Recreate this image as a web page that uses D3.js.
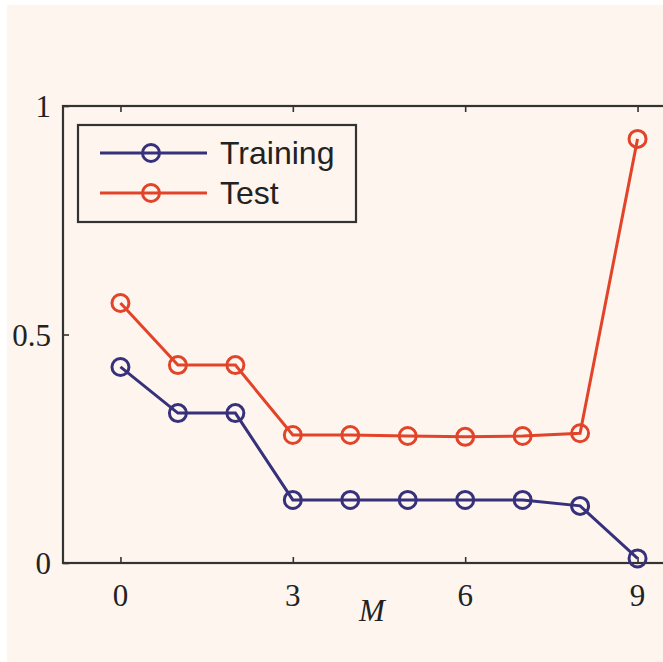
<!DOCTYPE html>
<html>
<head>
<meta charset="utf-8">
<script src="https://cdn.jsdelivr.net/npm/d3@7"></script>
<style>
  html, body { margin: 0; padding: 0; background: #ffffff; }
  svg { display: block; }
</style>
</head>
<body>
<svg id="chart" width="663" height="662"></svg>
<script>
// Polynomial order M and RMS error on training / test sets
const orders = [0, 1, 2, 3, 4, 5, 6, 7, 8, 9];
const trainingError = [0.429, 0.328, 0.328, 0.138, 0.138, 0.138, 0.138, 0.138, 0.125, 0.01];
const testError = [0.569, 0.433, 0.433, 0.280, 0.280, 0.278, 0.276, 0.278, 0.284, 0.928];
const xTicks = [0, 3, 6, 9];
const yTicks = [0, 0.5, 1];
const yTickLabels = ["0", "0.5", "1"];
const seriesNames = ["Training", "Test"];
const seriesColors = ["#37317c", "#e2442a"];

const svg = d3.select("#chart");

// paper background
svg.append("rect")
  .attr("x", 7).attr("y", 5).attr("width", 663).attr("height", 662)
  .attr("fill", "#fdf5ee");

const x = d3.scaleLinear().domain([-1, 10]).range([63, 695]);
const y = d3.scaleLinear().domain([0, 1]).range([563, 106]);

const axisColor = "#333333";
const markW = 3;

// frame around the plotting area
svg.append("rect")
  .attr("x", x(-1)).attr("y", y(1))
  .attr("width", x(10) - x(-1)).attr("height", y(0) - y(1))
  .attr("fill", "none").attr("stroke", axisColor).attr("stroke-width", 2.2);

// inward ticks on bottom and top edges
const xAxisBottom = d3.axisBottom(x).tickValues(xTicks).tickSizeInner(-6).tickSizeOuter(0).tickFormat("");
const xAxisTop = d3.axisTop(x).tickValues(xTicks).tickSizeInner(-6).tickSizeOuter(0).tickFormat("");
const yAxisLeft = d3.axisLeft(y).tickValues(yTicks).tickSizeInner(-6).tickSizeOuter(0).tickFormat("");

[svg.append("g").attr("transform", `translate(0,${y(0)})`).call(xAxisBottom),
 svg.append("g").attr("transform", `translate(0,${y(1)})`).call(xAxisTop),
 svg.append("g").attr("transform", `translate(${x(-1)},0)`).call(yAxisLeft)]
  .forEach(g => {
    g.select(".domain").remove();
    g.selectAll("line").attr("stroke", axisColor).attr("stroke-width", 1.6);
  });

// tick labels (serif)
svg.append("g").selectAll("text").data(xTicks).join("text")
  .attr("x", d => x(d)).attr("y", 606)
  .attr("text-anchor", "middle")
  .attr("font-family", "'Liberation Serif', 'DejaVu Serif', serif")
  .attr("font-size", 31).attr("fill", "#222")
  .text(d => d);

svg.append("g").selectAll("text").data(yTicks).join("text")
  .attr("x", 51).attr("y", d => y(d) + 11)
  .attr("text-anchor", "end")
  .attr("font-family", "'Liberation Serif', 'DejaVu Serif', serif")
  .attr("font-size", 31).attr("fill", "#222")
  .text((d, i) => yTickLabels[i]);

// axis title
svg.append("text")
  .attr("x", 372).attr("y", 621)
  .attr("text-anchor", "middle")
  .attr("font-family", "'Liberation Serif', 'DejaVu Serif', serif")
  .attr("font-style", "italic")
  .attr("font-size", 31).attr("fill", "#222")
  .text("M");

// series lines with open circle markers
const line = d3.line().x((d, i) => x(orders[i])).y(d => y(d));
const plot = svg.append("g");
[trainingError, testError].forEach((vals, s) => {
  const g = plot.append("g");
  g.append("path")
    .datum(vals)
    .attr("d", line)
    .attr("fill", "none")
    .attr("stroke", seriesColors[s])
    .attr("stroke-width", markW);
  g.selectAll("circle").data(vals).join("circle")
    .attr("cx", (d, i) => x(orders[i]))
    .attr("cy", d => y(d))
    .attr("r", 8.5)
    .attr("fill", "none")
    .attr("stroke", seriesColors[s])
    .attr("stroke-width", markW);
});

// legend
const legend = svg.append("g");
legend.append("rect")
  .attr("x", 78).attr("y", 125).attr("width", 278).attr("height", 97)
  .attr("fill", "#fdf5ee").attr("stroke", axisColor).attr("stroke-width", 2.2);
seriesNames.forEach((name, i) => {
  const ly = 153 + i * 40;
  legend.append("line")
    .attr("x1", 100).attr("x2", 207).attr("y1", ly).attr("y2", ly)
    .attr("stroke", seriesColors[i]).attr("stroke-width", markW);
  legend.append("circle")
    .attr("cx", 151).attr("cy", ly).attr("r", 8.5)
    .attr("fill", "none").attr("stroke", seriesColors[i]).attr("stroke-width", markW);
  legend.append("text")
    .attr("x", 220).attr("y", ly + 11)
    .attr("font-family", "'Liberation Sans', Arial, sans-serif")
    .attr("font-size", 32).attr("fill", "#222")
    .text(name);
});
</script>
</body>
</html>
